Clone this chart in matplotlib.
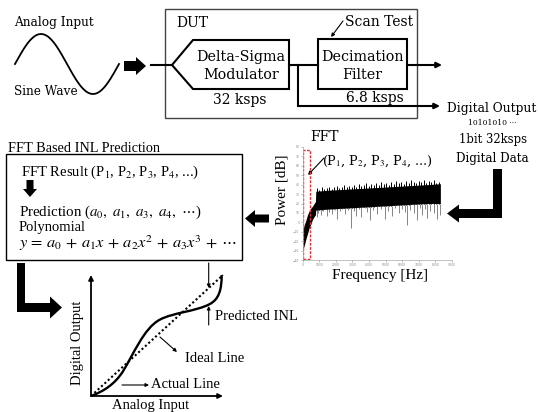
import numpy as np
import matplotlib
matplotlib.use("Agg")
import matplotlib.pyplot as plt
from matplotlib.patches import Rectangle, Polygon, FancyArrow, PathPatch
from matplotlib.path import Path

plt.rcParams['mathtext.fontset'] = 'stix'

W, H = 538, 412
TOP = 'DejaVu Serif'
LOW = 'Liberation Serif'

# FFT spectrum (Hz, dB)
spec_freq = [0, 100, 200, 300, 400, 500, 600, 700, 780, 800, 1500, 2500, 3500, 4500, 5500, 6500, 7500, 8300]
spec_hi = [-10, -3, 2, 8, 12, 15, 17, 20, 22, 33, 34, 35, 36, 37, 38, 39, 40, 41]
spec_lo = [-30, -25, -18, -12, -6, -2, 3, 6, 8, 13, 14, 15, 16, 17, 18, 19, 20, 20]
dip_freq = [850, 950, 1100, 1250, 1460, 1600, 1800, 1950, 2060, 2250, 2400, 2560, 2750, 2920,
            3100, 3250, 3400, 3540, 3750, 3900, 4070, 4250, 4500, 4700, 4970, 5150, 5370, 5550,
            5800, 6000, 6150, 6280, 6500, 6700, 6880, 7050, 7200, 7350, 7480, 7700, 7900, 8080, 8250]
dip_db = [6, 10, 8, 12, 7, 11, 9, 13, 4, 12, 14, 9, 13, -6,
          12, 7, 14, 6, 15, 11, 3, 13, 9, 14, 4, 12, 7, 15,
          10, 14, 11, -3, 13, 10, 2.5, 15, 8, 14, 5, 12, 10, 3.5, 8]
peak_freq = [850, 1000, 1150, 1300, 1450, 1600, 1750, 1900, 2050, 2200, 2350, 2500, 2650,
             2800, 2950, 3100, 3250, 3400, 3550, 3700, 3850, 4000, 4150, 4300, 4450, 4600,
             4750, 4900, 5050, 5200, 5350, 5500, 5650, 5800, 5950, 6100, 6250, 6400, 6550,
             6700, 6850, 7000, 7150, 7300, 7450, 7600, 7750, 7900, 8050, 8200]
peak_db = [36, 34, 37, 35, 36, 38, 35, 37, 39, 36, 38, 40, 37,
           39, 37, 40, 38, 41, 39, 40, 42, 39, 41, 40, 42, 40,
           43, 41, 42, 40, 43, 41, 44, 42, 43, 41, 44, 42, 45, 43,
           42, 44, 43, 45, 42, 44, 43, 45, 42, 43]
fft_xticks = [0, 1000, 2000, 3000, 4000, 5000, 6000, 7000, 8000, 9000]
fft_yticks = [-40, -30, -20, -10, 0, 10, 20, 30, 40, 50, 60, 70, 80]

# INL sketch, normalised input/output
actual_pts = [(0, 0), (0.10, 0.04), (0.18, 0.10), (0.24, 0.20),
              (0.32, 0.34), (0.40, 0.56), (0.52, 0.63),
              (0.62, 0.69), (0.80, 0.70), (0.90, 0.76),
              (0.97, 0.80), (0.99, 0.88), (0.99, 1.0)]
ideal_x = [0, 1]
ideal_y = [0, 1]

fig = plt.figure(figsize=(W / 100, H / 100), dpi=100)
ax = fig.add_axes([0, 0, 1, 1])
ax.set_xlim(0, W)
ax.set_ylim(H, 0)
ax.axis('off')


def txt(x, y, s, size=10, family=TOP, ha='left', **kw):
    ax.text(x, y, s, fontsize=size, family=family, ha=ha, va='center', **kw)


def block(x, y, dx, dy, w, hw, hl):
    ax.add_patch(FancyArrow(x, y, dx, dy, width=w, head_width=hw, head_length=hl,
                            length_includes_head=True, color='black', lw=0))


def thin(x0, y0, x1, y1, lw=1.0, ms=8):
    ax.annotate('', xy=(x1, y1), xytext=(x0, y0),
                arrowprops=dict(arrowstyle='-|>', lw=lw, color='black',
                                mutation_scale=ms, shrinkA=0, shrinkB=0))


# ---- top: input, DUT
txt(14, 22, 'Analog Input', size=8.7)
txt(14, 91, 'Sine Wave', size=8.7)
t = np.linspace(0, 2 * np.pi, 200)
ax.plot(15 + t / (2 * np.pi) * 104, 64 - 30 * np.sin(t), color='black', lw=1.3)
block(124, 66, 22, 0, 10, 18, 10)
ax.plot([151, 172], [65, 65], color='black', lw=1.5)

ax.add_patch(Rectangle((165, 9), 252, 109, fill=False, ec='#444444', lw=1))
txt(176, 23, 'DUT')
ax.add_patch(Polygon([(172, 65), (193, 40), (289, 40), (289, 89), (193, 89)],
                     closed=True, fill=False, ec='black', lw=1.5))
txt(241, 57, 'Delta-Sigma', size=10.3, ha='center')
txt(241, 75, 'Modulator', size=10.3, ha='center')
txt(240, 100, '32 ksps', ha='center')

ax.add_patch(Rectangle((318, 39), 89, 50, fill=False, ec='black', lw=1.5))
txt(362, 57, 'Decimation', size=10.3, ha='center')
txt(362, 75, 'Filter', size=10.3, ha='center')
txt(379, 22, 'Scan Test', ha='center')
thin(343, 21, 331, 37, lw=0.8, ms=5)
ax.plot([289, 318], [65, 65], color='black', lw=1.5)
txt(375, 98, '6.8 ksps', ha='center')
ax.plot([298, 298], [65, 106], color='black', lw=1.5)
thin(298, 106, 440, 106, lw=1.5, ms=8)
thin(407, 65, 442, 65, lw=1.5, ms=8)

txt(492, 108, 'Digital Output', size=8.8, ha='center')
txt(492, 123, '10101010 \u00b7\u00b7\u00b7', size=5.5, ha='center')
txt(493, 140, '1bit 32ksps', size=8.4, ha='center')
txt(492, 158, 'Digital Data', size=8.6, ha='center')

# right L arrow
ax.add_patch(Rectangle((493, 169), 9, 49, color='black', lw=0))
block(502, 213.5, -55, 0, 9, 18, 12)

# ---- FFT panel
axf = fig.add_axes([302.5 / W, 1 - 260 / H, (452 - 302.5) / W, (260 - 147) / H])
axf.vlines(dip_freq, np.interp(dip_freq, spec_freq, spec_lo), dip_db,
           color='#555555', lw=0.5)
axf.fill_between(spec_freq, spec_lo, spec_hi, color='black', lw=0)
axf.vlines(peak_freq, np.interp(peak_freq, spec_freq, spec_lo), peak_db,
           color='black', lw=0.7)
axf.add_patch(Rectangle((0, -39), 470, 116, fill=False, ec='#e03030', ls=(0, (2, 1)), lw=1.0))
axf.set_xlim(0, 9000)
axf.set_ylim(-40, 80)
axf.set_xticks(fft_xticks)
axf.set_yticks(fft_yticks)
axf.tick_params(labelsize=2.2, length=1.2, width=0.4, colors='#888888', pad=1)
for s in ['top', 'right']:
    axf.spines[s].set_visible(False)
for s in ['left', 'bottom']:
    axf.spines[s].set_color('#aaaaaa')
    axf.spines[s].set_linewidth(0.5)
axf.patch.set_alpha(0)

txt(325, 137, 'FFT', ha='center')
txt(378, 161, '(P$_1$, P$_2$, P$_3$, P$_4$, ...)', size=9.2, ha='center')
thin(324, 158, 308, 175, lw=0.8, ms=5)
txt(282, 190, 'Power [dB]', size=11, family=LOW, ha='center', rotation=90)
txt(380, 276, 'Frequency [Hz]', size=11, family=LOW, ha='center')

block(269, 218.5, -24, 0, 8, 17, 10)

# ---- prediction box
txt(8, 149, 'FFT Based INL Prediction', size=10.3, family=LOW)
ax.add_patch(Rectangle((6, 154), 236, 106, fill=False, ec='black', lw=1))
txt(21, 172, 'FFT Result (P$_1$, P$_2$, P$_3$, P$_4$, ...)', size=10.5, family=LOW)
block(30, 180, 0, 17, 7, 14, 8)
txt(19, 212, 'Prediction ($a_0,\\ a_1,\\ a_3,\\ a_4,\\ \\cdots$)', size=10.8, family=LOW)
txt(19, 227, 'Polynomial', size=10.5, family=LOW)
txt(19, 243, '$y\\, =\\, a_0\\, +\\, a_1x\\, +\\, a_2x^2\\, +\\, a_3x^3\\, +\\, \\cdots$', size=11.8, family=LOW)

# left L arrow
ax.add_patch(Rectangle((17, 263), 8, 49, color='black', lw=0))
block(17, 307.5, 45, 0, 9, 22, 12)

# ---- INL sketch
axi = fig.add_axes([91 / W, 1 - 396 / H, 132 / W, 121 / H])
axi.set_xlim(0, 1)
axi.set_ylim(0, 1)
axi.axis('off')
axi.annotate('', xy=(0, 1.0), xytext=(0, 0),
             arrowprops=dict(arrowstyle='-|>', lw=1.3, color='black', mutation_scale=7, shrinkA=0, shrinkB=0))
axi.annotate('', xy=(1.0, 0), xytext=(0, 0),
             arrowprops=dict(arrowstyle='-|>', lw=1.3, color='black', mutation_scale=7, shrinkA=0, shrinkB=0))
axi.plot(ideal_x, ideal_y, color='black', lw=1.5, ls=(0, (1, 1.2)), clip_on=False)
codes = [Path.MOVETO] + [Path.CURVE4] * (len(actual_pts) - 1)
axi.add_patch(PathPatch(Path(actual_pts, codes), fill=False, ec='black', lw=1.7, clip_on=False))

thin(208.7, 263, 208.7, 288, lw=0.8, ms=5)
thin(208.7, 325, 208.7, 306, lw=0.8, ms=5)
txt(215, 317, 'Predicted INL', size=10.5, family=LOW)
thin(160, 337, 177, 352, lw=0.8, ms=5)
txt(185, 359, 'Ideal Line', size=10.5, family=LOW)
thin(122, 385, 149, 385, lw=0.8, ms=5)
txt(151, 385, 'Actual Line', size=10.5, family=LOW)
txt(151, 405, 'Analog Input', size=10.5, family=LOW, ha='center')
txt(78, 343, 'Digital Output', size=10.5, family=LOW, ha='center', rotation=90)

fig.savefig('out.png', dpi=100)
